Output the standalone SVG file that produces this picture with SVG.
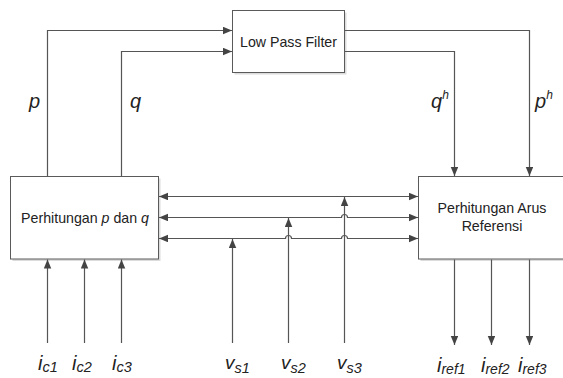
<svg xmlns="http://www.w3.org/2000/svg" width="563" height="378" viewBox="0 0 563 378">
<style>
.box{fill:#fff;stroke:#5a5a5a;stroke-width:1}
.shadow{fill:#dcdcdc}
.ln{fill:none;stroke:#555;stroke-width:1.2}
.t{font-family:"Liberation Sans",Arial,sans-serif;fill:#222;font-size:14.2px}
.lbl{font-family:"Liberation Sans",Arial,sans-serif;fill:#222;font-style:italic}
</style>
<defs>
<marker id="ar" markerUnits="userSpaceOnUse" markerWidth="10" markerHeight="8" refX="9" refY="3.75" orient="auto-start-reverse">
<path d="M0,0 L9,3.75 L0,7.5 z" fill="#444"/>
</marker>
</defs>
<rect width="563" height="378" fill="#fff"/>
<g id="lpf">
<rect class="shadow" x="234.5" y="12.5" width="112" height="62"/>
<rect class="box" x="232.5" y="10.5" width="112" height="62"/>
<text class="t" x="288.5" y="47" text-anchor="middle">Low Pass Filter</text>
</g>
<g id="pq">
<rect class="shadow" x="12.5" y="178.5" width="148" height="82.5"/>
<rect class="box" x="10.5" y="176.5" width="148" height="82.5"/>
<text class="t" x="85" y="223" text-anchor="middle">Perhitungan <tspan font-style="italic">p</tspan> dan <tspan font-style="italic">q</tspan></text>
</g>
<g id="ref">
<rect class="shadow" x="420.5" y="178.5" width="148" height="82.5"/>
<rect class="box" x="418.5" y="176.5" width="148" height="82.5"/>
<text class="t" x="492" y="212.5" text-anchor="middle">Perhitungan Arus</text>
<text class="t" x="492" y="231" text-anchor="middle">Referensi</text>
</g>
<g id="connectors">
<path class="ln" d="M47.5,176 V30.5 H232" marker-end="url(#ar)"/>
<path class="ln" d="M121.5,176 V51.5 H232" marker-end="url(#ar)"/>
<path class="ln" d="M345,30.5 H529.5 V176" marker-end="url(#ar)"/>
<path class="ln" d="M345,51.5 H454.5 V176" marker-end="url(#ar)"/>
<path class="ln" d="M159,196.5 H418" marker-start="url(#ar)" marker-end="url(#ar)"/>
<path class="ln" d="M159,217.5 H341.5 a3,3 0 0 1 6,0 H418" marker-start="url(#ar)" marker-end="url(#ar)"/>
<path class="ln" d="M159,238.5 H285.5 a3,3 0 0 1 6,0 H341.5 a3,3 0 0 1 6,0 H418" marker-start="url(#ar)" marker-end="url(#ar)"/>
<path class="ln" d="M232.5,343 V239" marker-end="url(#ar)"/>
<path class="ln" d="M288.5,343 V218" marker-end="url(#ar)"/>
<path class="ln" d="M344.5,343 V197" marker-end="url(#ar)"/>
<path class="ln" d="M47.5,343 V259.5" marker-end="url(#ar)"/>
<path class="ln" d="M84.5,343 V259.5" marker-end="url(#ar)"/>
<path class="ln" d="M121.5,343 V259.5" marker-end="url(#ar)"/>
<path class="ln" d="M454.5,259.5 V345" marker-end="url(#ar)"/>
<path class="ln" d="M491.5,259.5 V345" marker-end="url(#ar)"/>
<path class="ln" d="M529.5,259.5 V345" marker-end="url(#ar)"/>
</g>
<g id="labels">
<text class="lbl" x="29" y="107.5" font-size="20">p</text>
<text class="lbl" x="130" y="107.5" font-size="20">q</text>
<text class="lbl" x="431" y="107.5" font-size="20">q<tspan font-size="12" dy="-9">h</tspan></text>
<text class="lbl" x="535" y="107.5" font-size="20">p<tspan font-size="12" dy="-9">h</tspan></text>
<text class="lbl" x="38" y="370" font-size="20">i<tspan font-size="14.5" dy="2">c1</tspan></text>
<text class="lbl" x="72" y="370" font-size="20">i<tspan font-size="14.5" dy="2">c2</tspan></text>
<text class="lbl" x="112" y="370" font-size="20">i<tspan font-size="14.5" dy="2">c3</tspan></text>
<text class="lbl" x="225" y="368.5" font-size="19">v<tspan font-size="14.5" dy="4">s1</tspan></text>
<text class="lbl" x="281" y="368.5" font-size="19">v<tspan font-size="14.5" dy="4">s2</tspan></text>
<text class="lbl" x="337" y="368.5" font-size="19">v<tspan font-size="14.5" dy="4">s3</tspan></text>
<text class="lbl" x="437" y="372" font-size="20">i<tspan font-size="14" dy="2">ref1</tspan></text>
<text class="lbl" x="481" y="372" font-size="20">i<tspan font-size="14" dy="2">ref2</tspan></text>
<text class="lbl" x="518" y="372" font-size="20">i<tspan font-size="14" dy="2">ref3</tspan></text>
</g>
</svg>
